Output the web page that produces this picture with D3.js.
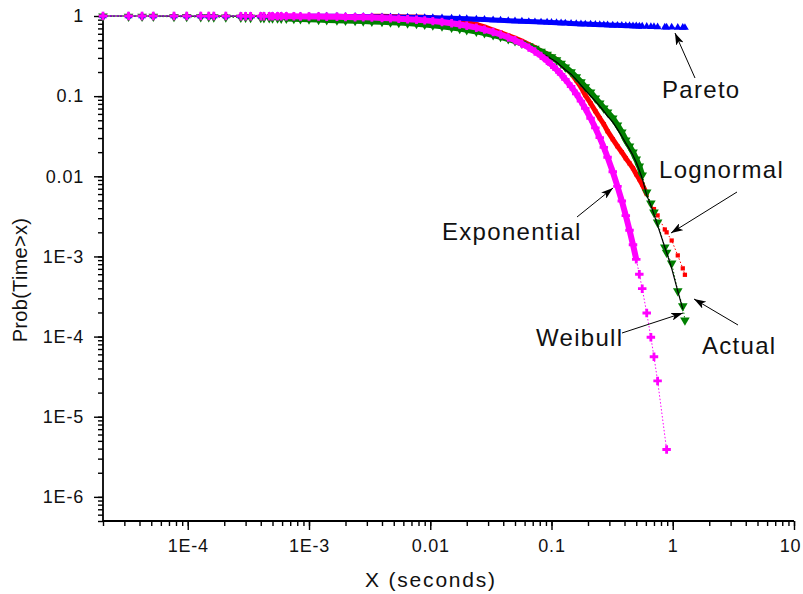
<!DOCTYPE html>
<html>
<head>
<meta charset="utf-8">
<script src="https://cdn.jsdelivr.net/npm/d3@7"></script>
<style>
  body { margin: 0; background: #fff; }
  svg { display: block; font-family: "Liberation Sans", Arial, sans-serif; }
</style>
</head>
<body>
<div id="chart"></div>
<script>
// --- sample points (seconds), shared by every curve ---
const xs = [
  2.0e-5, 3.25e-5, 4.2e-5, 5.2e-5, 7.7e-5, 9.8e-5, 1.28e-4, 1.49e-4, 1.64e-4, 2.06e-4,
  2.74e-4, 3.0e-4, 3.3e-4, 4.0e-4, 4.25e-4, 4.7e-4, 5.0e-4, 5.5e-4, 5.9e-4, 6.5e-4,
  7.5e-4, 8.5e-4, 1.0e-3, 1.2e-3, 1.4e-3, 1.7e-3, 2.0e-3, 2.4e-3, 2.8e-3, 3.3e-3,
  4.0e-3, 4.7e-3, 5.5e-3, 6.5e-3, 7.7e-3, 9.0e-3, 0.0105, 0.0125, 0.015, 0.0175,
  0.02, 0.024, 0.028, 0.033, 0.038, 0.044, 0.05, 0.057, 0.065, 0.073,
  0.082, 0.092, 0.1, 0.11, 0.12, 0.13, 0.145, 0.16, 0.175, 0.19,
  0.21, 0.23, 0.25, 0.27, 0.29, 0.32, 0.35, 0.38, 0.41, 0.44,
  0.47, 0.5, 0.53, 0.56, 0.61, 0.66, 0.70, 0.75, 0.86, 0.89,
  0.98, 1.1, 1.21, 1.26
];

// --- Prob(Time>x) for each curve (null = not plotted) ---
const actual = [
  1.0, 1.0, 1.0, 1.0, 0.999, 0.999, 0.999, 0.999, 0.999, 0.998,
  0.998, 0.998, 0.998, 0.997, 0.997, 0.997, 0.997, 0.996, 0.996, 0.996,
  0.995, 0.994, 0.993, 0.992, 0.991, 0.989, 0.987, 0.984, 0.98, 0.975,
  0.962, 0.952, 0.94, 0.925, 0.91, 0.891, 0.866, 0.835, 0.8, 0.765,
  0.729, 0.688, 0.649, 0.604, 0.562, 0.516, 0.48, 0.447, 0.41, 0.376,
  0.345, 0.316, 0.29, 0.266, 0.237, 0.214, 0.188, 0.161, 0.137, 0.119,
  0.101, 0.0866, 0.075, 0.065, 0.0562, 0.0473, 0.0387, 0.0316, 0.0259, 0.0218,
  0.0183, 0.015, 0.0119, 0.0094, 0.0058, 0.00434, 0.00335, 0.00244, 0.0013, 0.00112,
  7.1e-4, 3.7e-4, 2.2e-4, null
];

const weibull = [
  0.991, 0.988, 0.986, 0.984, 0.980, 0.977, 0.973, 0.971, 0.969, 0.965,
  0.959, 0.957, 0.954, 0.949, 0.947, 0.944, 0.942, 0.938, 0.935, 0.931,
  0.923, 0.917, 0.91, 0.902, 0.894, 0.886, 0.878, 0.871, 0.863, 0.856,
  0.846, 0.837, 0.827, 0.815, 0.801, 0.785, 0.767, 0.746, 0.72, 0.696,
  0.672, 0.642, 0.613, 0.579, 0.55, 0.516, 0.487, 0.453, 0.422, 0.393,
  0.36, 0.33, 0.307, 0.282, 0.255, 0.23, 0.2, 0.173, 0.15, 0.13,
  0.112, 0.0944, 0.0816, 0.0708, 0.0631, 0.0531, 0.0434, 0.0355, 0.0282, 0.0237,
  0.02, 0.0163, 0.0133, 0.0103, 0.00631, 0.0046, 0.00355, 0.00266, 0.0013, 0.00112,
  8.2e-4, 3.7e-4, 2.4e-4, 1.6e-4
];

const lognormal = [
  1.0, 1.0, 1.0, 1.0, 1.0, 1.0, 1.0, 1.0, 1.0, 1.0,
  1.0, 1.0, 1.0, 1.0, 1.0, 1.0, 1.0, 1.0, 1.0, 1.0,
  1.0, 1.0, 1.0, 0.999, 0.999, 0.998, 0.997, 0.996, 0.995, 0.993,
  0.99, 0.986, 0.981, 0.975, 0.97, 0.962, 0.952, 0.931, 0.899, 0.866,
  0.829, 0.783, 0.729, 0.668, 0.622, 0.571, 0.531, 0.487, 0.44, 0.404,
  0.365, 0.335, 0.312, 0.286, 0.255, 0.227, 0.194, 0.158, 0.13, 0.103,
  0.0816, 0.065, 0.0531, 0.0447, 0.0365, 0.029, 0.0237, 0.02, 0.0168, 0.0145,
  0.0126, 0.0106, 0.0092, 0.0079, 0.006, 0.0046, 0.0039, 0.00325, 0.00217, 0.002,
  0.00158, 0.00103, 7.1e-4, 5.9e-4
];

const exponential = [
  1.0, 0.999, 0.999, 0.999, 0.999, 0.999, 0.998, 0.998, 0.998, 0.997,
  0.996, 0.996, 0.995, 0.994, 0.994, 0.993, 0.993, 0.992, 0.992, 0.991,
  0.99, 0.988, 0.986, 0.983, 0.981, 0.977, 0.972, 0.967, 0.962, 0.955,
  0.946, 0.936, 0.926, 0.913, 0.898, 0.882, 0.863, 0.84, 0.811, 0.783,
  0.756, 0.715, 0.676, 0.63, 0.588, 0.54, 0.497, 0.451, 0.403, 0.36,
  0.318, 0.276, 0.247, 0.215, 0.187, 0.162, 0.132, 0.107, 0.0865, 0.0702,
  0.053, 0.0401, 0.0303, 0.0229, 0.0173, 0.0114, 0.00748, 0.00492, 0.00323, 0.00212,
  0.0014, 9.2e-4, 6.0e-4, 3.96e-4, 1.97e-4, 9.8e-5, 5.6e-5, 2.8e-5, null, 3.9e-6,
  null, null, null, null
];

const pareto = [
  1.0, 1.0, 1.0, 1.0, 1.0, 1.0, 1.0, 1.0, 1.0, 1.0,
  1.0, 1.0, 1.0, 1.0, 1.0, 1.0, 1.0, 1.0, 1.0, 0.998,
  0.997, 0.996, 0.995, 0.993, 0.992, 0.99, 0.988, 0.986, 0.983, 0.98,
  0.975, 0.971, 0.967, 0.963, 0.959, 0.955, 0.951, 0.944, 0.937, 0.93,
  0.922, 0.913, 0.904, 0.893, 0.884, 0.875, 0.866, 0.858, 0.851, 0.845,
  0.839, 0.834, 0.829, 0.824, 0.819, 0.815, 0.807, 0.801, 0.796, 0.792,
  0.788, 0.783, 0.779, 0.775, 0.772, 0.768, 0.764, 0.761, 0.758, 0.755,
  0.752, 0.749, 0.746, 0.744, 0.74, 0.736, 0.734, 0.731, 0.726, 0.725,
  0.722, 0.72, 0.718, 0.716
];

// --- axis ticks and labels ---
const xMajor = [1e-4, 1e-3, 1e-2, 1e-1, 1, 10];
const xMajorLabels = ["1E-4", "1E-3", "0.01", "0.1", "1", "10"];
const yMajor = [1e-6, 1e-5, 1e-4, 1e-3, 1e-2, 1e-1, 1];
const yMajorLabels = ["1E-6", "1E-5", "1E-4", "1E-3", "0.01", "0.1", "1"];

// ==============================
// Setup
// ==============================
const width = 803, height = 594;
const svg = d3.select("#chart").append("svg")
  .attr("width", width)
  .attr("height", height);

const x = d3.scaleLog().domain([2e-5, 10]).range([103, 794]);
const y = d3.scaleLog().domain([5e-7, 1.05]).range([521, 14.3]);

// minor ticks 2..9 in each decade
function minorTicks(domain) {
  const out = [];
  for (let e = -8; e <= 2; e++) {
    for (let m = 1; m <= 9; m++) {
      const v = +(m * Math.pow(10, e)).toPrecision(3);
      if (v >= domain[0] * 0.999 && v <= domain[1]) out.push(v);
    }
  }
  return out;
}

// --- X axis ---
const xAxisG = svg.append("g").attr("transform", `translate(0,${y.range()[0]})`);
xAxisG.append("g")
  .call(d3.axisBottom(x).tickValues(minorTicks(x.domain())).tickSize(5).tickFormat(""))
  .call(g => g.select(".domain").remove());
xAxisG.append("g")
  .call(d3.axisBottom(x).tickValues(xMajor).tickSize(9).tickPadding(9)
    .tickFormat((d, i) => xMajorLabels[i]))
  .call(g => g.select(".domain").remove())
  .call(g => g.selectAll(".tick text").filter(d => d === 10).attr("dx", -4));

// --- Y axis ---
const yAxisG = svg.append("g").attr("transform", `translate(${x.range()[0]},0)`);
yAxisG.append("g")
  .call(d3.axisLeft(y).tickValues(minorTicks([5e-7, 1])).tickSize(5).tickFormat(""))
  .call(g => g.select(".domain").remove());
yAxisG.append("g")
  .call(d3.axisLeft(y).tickValues(yMajor).tickSize(9).tickPadding(10)
    .tickFormat((d, i) => yMajorLabels[i]))
  .call(g => g.select(".domain").remove());

svg.selectAll(".tick line").attr("stroke", "#000").attr("stroke-width", 1.4);
svg.selectAll(".tick text")
  .attr("font-size", 18)
  .attr("letter-spacing", 0.8)
  .attr("fill", "#111")
  .attr("font-family", "'Liberation Sans', Arial, sans-serif");

// axis lines
svg.append("line")
  .attr("x1", x.range()[0]).attr("x2", x.range()[1])
  .attr("y1", y.range()[0]).attr("y2", y.range()[0])
  .attr("stroke", "#000").attr("stroke-width", 1.8);
svg.append("line")
  .attr("x1", x.range()[0]).attr("x2", x.range()[0])
  .attr("y1", y.range()[0]).attr("y2", y.range()[1])
  .attr("stroke", "#000").attr("stroke-width", 1.8);

// axis titles
svg.append("text")
  .attr("x", 431).attr("y", 587)
  .attr("text-anchor", "middle")
  .attr("font-size", 21).attr("letter-spacing", 1.8).attr("fill", "#111")
  .text("X (seconds)");
svg.append("text")
  .attr("transform", "translate(27,280) rotate(-90)")
  .attr("text-anchor", "middle")
  .attr("font-size", 20).attr("letter-spacing", 0.3).attr("fill", "#111")
  .text("Prob(Time>x)");

// ==============================
// Curves
// ==============================
const line = d3.line().x(d => x(d[0])).y(d => y(d[1]));
const pts = vals => xs.map((v, i) => [v, vals[i]]).filter(d => d[1] != null);

// dense part of a curve gets a solid band so the markers read as one stripe
function drawSeries(vals, color, symbol, size, rot, band) {
  const data = pts(vals);
  const g = svg.append("g");
  g.append("path")
    .datum(data)
    .attr("d", line)
    .attr("fill", "none")
    .attr("stroke", color)
    .attr("stroke-width", 1)
    .attr("stroke-dasharray", "1.5,2");
  if (band) {
    g.append("path")
      .datum(data.filter(d => d[0] >= band[0] && d[0] <= band[1]))
      .attr("d", line)
      .attr("fill", "none")
      .attr("stroke", color)
      .attr("stroke-width", band[2]);
  }
  g.selectAll("path.m")
    .data(data)
    .join("path")
    .attr("class", "m")
    .attr("d", d3.symbol().type(symbol).size(size))
    .attr("transform", d => `translate(${x(d[0])},${y(d[1])}) rotate(${rot})`)
    .attr("fill", color);
}

drawSeries(lognormal, "#ff0000", d3.symbolSquare, 18, 0, [0.003, 0.61, 5]);
drawSeries(weibull, "#008000", d3.symbolTriangle, 40, 180, [6e-4, 0.56, 6]);

svg.append("path")
  .datum(pts(actual))
  .attr("d", line)
  .attr("fill", "none")
  .attr("stroke", "#000")
  .attr("stroke-width", 1.2);

drawSeries(pareto, "#0000ff", d3.symbolTriangle, 26, 0, [1e-3, 0.56, 5]);
drawSeries(exponential, "#ff00ff", d3.symbolCross, 40, 0, [4.7e-4, 0.5, 6]);

// ==============================
// Annotations
// ==============================
svg.append("defs").append("marker")
  .attr("id", "arrow")
  .attr("viewBox", "0 0 12 8")
  .attr("refX", 12).attr("refY", 4)
  .attr("markerWidth", 12).attr("markerHeight", 8)
  .attr("markerUnits", "userSpaceOnUse")
  .attr("orient", "auto")
  .append("path")
  .attr("d", "M0,0L12,4L0,8L3,4Z")
  .attr("fill", "#000");

const notes = [
  { text: "Pareto",      tx: 662, ty: 98,  x1: 695, y1: 78,  x2: 675, y2: 33 },
  { text: "Lognormal",   tx: 659, ty: 178, x1: 737, y1: 192, x2: 671, y2: 233 },
  { text: "Exponential", tx: 442, ty: 240, x1: 577, y1: 217, x2: 613, y2: 188 },
  { text: "Weibull",     tx: 536, ty: 346, x1: 622, y1: 333, x2: 683, y2: 313 },
  { text: "Actual",      tx: 702, ty: 354, x1: 738, y1: 325, x2: 694, y2: 299 }
];

const note = svg.append("g").selectAll("g").data(notes).join("g");
note.append("line")
  .attr("x1", d => d.x1).attr("y1", d => d.y1)
  .attr("x2", d => d.x2).attr("y2", d => d.y2)
  .attr("stroke", "#000").attr("stroke-width", 1)
  .attr("marker-end", "url(#arrow)");
note.append("text")
  .attr("x", d => d.tx).attr("y", d => d.ty)
  .attr("font-size", 24).attr("letter-spacing", 1.3)
  .attr("fill", "#111")
  .text(d => d.text);
</script>
</body>
</html>
